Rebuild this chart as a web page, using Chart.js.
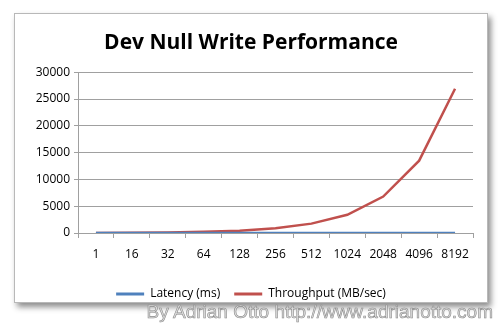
<!DOCTYPE html>
<html><head><meta charset="utf-8">
<script src="https://cdn.jsdelivr.net/npm/chart.js@4"></script>
<style>
html,body{margin:0;padding:0;background:#fff;width:500px;height:324px;overflow:hidden;}
#card{position:absolute;left:14px;top:13px;width:472px;height:288px;background:#fff;border:1px solid #b8b8b8;box-shadow:3px 4px 6px rgba(0,0,0,0.45);}
#wm{position:absolute;right:7px;top:301px;font-family:"Liberation Sans",Arial,sans-serif;font-size:19px;color:#dcdcdc;-webkit-text-stroke:0.6px #8a8a8a;white-space:nowrap;}
</style></head>
<body>
<div id="card"><canvas id="c" width="472" height="288"></canvas></div>
<div id="wm">By Adrian Otto http://www.adrianotto.com</div>
<script>
const categories = ["1","16","32","64","128","256","512","1024","2048","4096","8192"];
const latency = [0.5,0.5,0.5,0.5,0.5,0.5,0.5,0.5,0.5,0.5,0.5];
const throughput = [5,55,110,215,430,900,1750,3400,6800,13500,26900];
const yTicks = [0,5000,10000,15000,20000,25000,30000];

const font = '"Open Sans", Lato, sans-serif';
new Chart(document.getElementById('c'), {
  type: 'line',
  data: {
    labels: categories,
    datasets: [
      {label:'Latency (ms)', data: latency, borderColor:'#4f81bd', backgroundColor:'#4f81bd', borderWidth:2.5, pointRadius:0, tension:0},
      {label:'Throughput (MB/sec)', data: throughput, borderColor:'#c0504d', backgroundColor:'#c0504d', borderWidth:2.5, pointRadius:0, tension:0}
    ]
  },
  options: {
    responsive:false, animation:false,
    layout:{padding:{left:14,right:14,top:12,bottom:-8}},
    plugins:{
      title:{display:true,text:'Dev Null Write Performance',color:'#000',font:{family:font,size:21,weight:'bold'},padding:{top:4,bottom:17}},
      legend:{position:'bottom',labels:{font:{family:font,size:12},color:'#000',boxWidth:28,boxHeight:3,padding:14,
        generateLabels:(ch)=>Chart.defaults.plugins.legend.labels.generateLabels(ch).map(l=>{l.lineWidth=0;return l;})}},
      tooltip:{enabled:false}
    },
    scales:{
      x:{offset:true,
        grid:{offset:true,drawOnChartArea:false,drawTicks:true,tickLength:5,color:'#a0a0a0'},
        border:{color:'#a0a0a0',width:1},
        ticks:{font:{family:font,size:12},color:'#000',padding:9,maxRotation:0,autoSkip:false},
        afterFit:s=>{s.height=41;}
      },
      y:{min:0,max:30000,
        afterBuildTicks:s=>{s.ticks=yTicks.map(v=>({value:v}));},
        grid:{color:'#a0a0a0',tickLength:4},
        border:{color:'#a0a0a0',width:1},
        ticks:{font:{family:font,size:12},color:'#000',padding:4,callback:v=>String(v)},
        afterFit:s=>{s.width=49;}
      }
    }
  }
});
</script>
</body></html>
